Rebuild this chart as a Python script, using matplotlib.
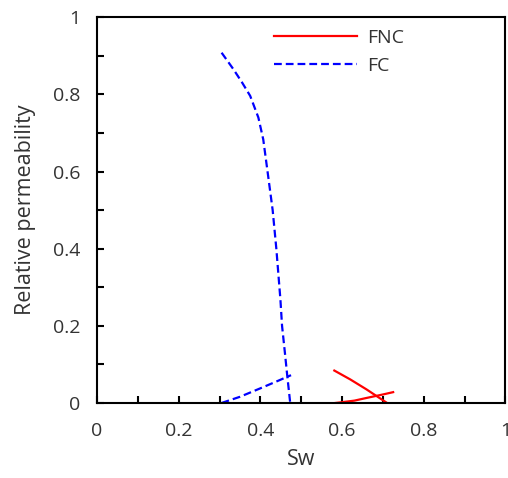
import matplotlib
matplotlib.use("Agg")
import matplotlib.pyplot as plt
from matplotlib.ticker import MultipleLocator

plt.rcParams.update({
    "font.family": ["Open Sans", "DejaVu Sans"],
    "font.size": 14,
})

# FC (blue dashed)
fc_sw_kro = [0.305, 0.334, 0.355, 0.375, 0.395, 0.407, 0.419, 0.430, 0.439, 0.449, 0.453, 0.460, 0.466, 0.473]
fc_kro = [0.908, 0.865, 0.831, 0.796, 0.740, 0.683, 0.588, 0.500, 0.400, 0.268, 0.200, 0.130, 0.068, 0.0]
fc_sw_krw = [0.305, 0.35, 0.40, 0.44, 0.475]
fc_krw = [0.0, 0.016, 0.038, 0.056, 0.072]

# FNC (red solid)
fnc_sw_kro = [0.581, 0.62, 0.66, 0.69, 0.71]
fnc_kro = [0.084, 0.061, 0.035, 0.014, 0.0]
fnc_sw_krw = [0.584, 0.60, 0.63, 0.66, 0.70, 0.725]
fnc_krw = [0.0, 0.002, 0.006, 0.013, 0.022, 0.028]

fig = plt.figure(figsize=(5.08, 4.78), dpi=100)
ax = fig.add_axes([0.191, 0.157, 0.804, 0.807])

red = "#ff0000"
blue = "#0000ff"
dash = (0, (3.5, 1.8))
ax.plot(fnc_sw_kro, fnc_kro, color=red, lw=1.6, label="FNC")
ax.plot(fnc_sw_krw, fnc_krw, color=red, lw=1.6)
ax.plot(fc_sw_kro, fc_kro, color=blue, lw=1.6, ls=dash, label="FC")
ax.plot(fc_sw_krw, fc_krw, color=blue, lw=1.6, ls=dash)

ax.set_xlim(0, 1)
ax.set_ylim(0, 1)
ax.xaxis.set_major_locator(MultipleLocator(0.2))
ax.yaxis.set_major_locator(MultipleLocator(0.2))
ax.xaxis.set_minor_locator(MultipleLocator(0.1))
ax.yaxis.set_minor_locator(MultipleLocator(0.1))
ax.xaxis.set_major_formatter(lambda v, p: f"{v:g}")
ax.yaxis.set_major_formatter(lambda v, p: f"{v:g}")
ax.tick_params(which="both", direction="in", length=5, width=1.5, color="black",
               labelcolor="#333333", pad=12)
ax.tick_params(axis="x", which="major", pad=14)
for s in ax.spines.values():
    s.set_linewidth(1.5)

ax.set_xlabel("Sw", color="#333333", fontsize=15.5, labelpad=6)
ax.set_ylabel("Relative permeability", color="#333333", fontsize=15.5, labelpad=12)

ax.legend(loc="upper left", bbox_to_anchor=(0.39, 1.015), frameon=False,
          handlelength=4.3, handletextpad=0.5, labelspacing=0.5, fontsize=14,
          labelcolor="#333333")

fig.savefig("out.png", dpi=100)
